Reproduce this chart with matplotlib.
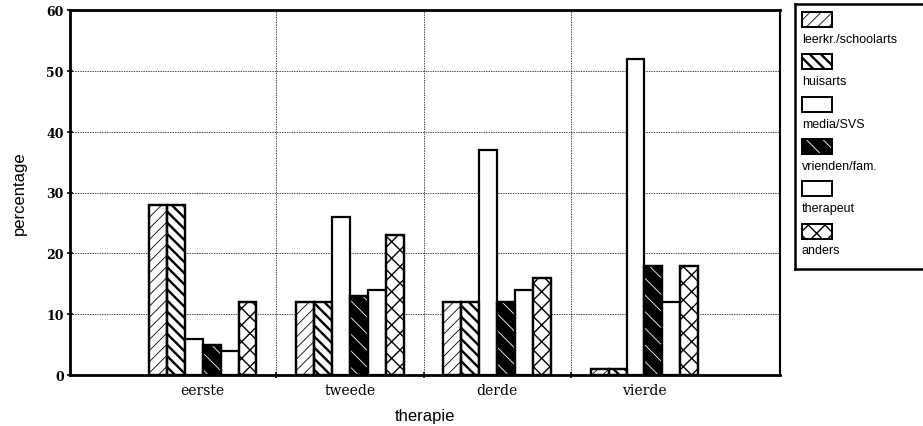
import numpy as np
import matplotlib
matplotlib.use("Agg")
import matplotlib.pyplot as plt
from matplotlib.patches import Rectangle

# data
categories = ["eerste", "tweede", "derde", "vierde"]
series_names = ["leerkr./schoolarts", "huisarts", "media/SVS",
                "vrienden/fam.", "therapeut", "anders"]
leerkr = [28, 12, 12, 1]
huisarts = [28, 12, 12, 1]
media = [6, 26, 37, 52]
vrienden = [5, 13, 12, 18]
therapeut = [4, 14, 14, 12]
anders = [12, 23, 16, 18]
series_values = [leerkr, huisarts, media, vrienden, therapeut, anders]

# (face, hatch, hatch colour, hatch linewidth)
styles = [
    ("white", "///", "black", 0.6),
    ("white", "\\\\\\", "black", 1.7),
    ("white", None, "black", 0.6),
    ("black", "\\\\", "white", 0.6),
    ("white", None, "black", 0.6),
    ("white", "xx", "black", 1.0),
]

W, H = 923, 427
fig = plt.figure(figsize=(W / 100, H / 100), dpi=100)
ax = fig.add_axes([70 / W, 1 - 376 / H, (780 - 70) / W, (376 - 11) / H])

x = np.arange(1, len(categories) + 1)
bw = 0.122


def draw_bar(target, xs, ys, width, style, bottom=0):
    face, hatch, hcol, hlw = style
    bars = target.bar(xs, ys, width, bottom=bottom, color=face,
                      edgecolor="black", linewidth=1.6, zorder=3)
    if hatch:
        over = target.bar(xs, ys, width, bottom=bottom, color="none",
                          edgecolor=hcol, hatch=hatch, linewidth=0, zorder=4)
        for p in over:
            if hasattr(p, "set_hatch_linewidth"):
                p.set_hatch_linewidth(hlw)
        target.bar(xs, ys, width, bottom=bottom, color="none",
                   edgecolor="black", linewidth=1.6, zorder=5)
    return bars


for i, (vals, st) in enumerate(zip(series_values, styles)):
    offs = (i - 2.5) * bw
    draw_bar(ax, x + offs, vals, bw, st)

ax.set_xlim(0.1, 4.92)
ax.set_ylim(0, 60)
ax.set_yticks(range(0, 61, 10))
ax.set_xticks(x)
ax.set_xticklabels(categories, family="DejaVu Serif", fontsize=10)
ax.set_xticks([1.5, 2.5, 3.5], minor=True)
ax.tick_params(axis="x", which="major", length=0, pad=6)
ax.tick_params(axis="x", which="minor", length=5, direction="inout", width=1.2)
ax.tick_params(axis="y", length=5, direction="inout", width=1.2, pad=2)
for lab in ax.get_yticklabels():
    lab.set_family("DejaVu Serif")
    lab.set_fontweight("bold")
    lab.set_fontsize(9)

ax.grid(True, axis="y", which="major", color="black", linewidth=0.5,
        linestyle=(0, (2, 1.5)), zorder=1)
ax.grid(True, axis="x", which="minor", color="black", linewidth=0.5,
        linestyle=(0, (2, 1.5)), zorder=1)
for side in ["left", "bottom", "top"]:
    ax.spines[side].set_linewidth(2)
ax.spines["right"].set_linewidth(1.5)

ax.set_ylabel("percentage", family="Liberation Sans", fontsize=12, labelpad=14)
ax.set_xlabel("therapie", family="Liberation Sans", fontsize=12, labelpad=8)

# legend: swatch above label, drawn in its own pixel-unit axes
lx0, ly0, lx1, ly1 = 795, 5, 930, 270
lax = fig.add_axes([lx0 / W, 1 - ly1 / H, (lx1 - lx0) / W, (ly1 - ly0) / H])
lax.set_xlim(0, lx1 - lx0)
lax.set_ylim(ly1 - ly0, 0)
lax.set_xticks([])
lax.set_yticks([])
for s in lax.spines.values():
    s.set_linewidth(1.8)
for i, (name, st) in enumerate(zip(series_names, styles)):
    top = 8 + i * 42.3
    face, hatch, hcol, hlw = st
    lax.add_patch(Rectangle((7, top), 30, 15, facecolor=face,
                            edgecolor="black", linewidth=1.4, zorder=2))
    if hatch:
        r = Rectangle((7, top), 30, 15, facecolor="none", edgecolor=hcol,
                      hatch=hatch, linewidth=0, zorder=3)
        if hasattr(r, "set_hatch_linewidth"):
            r.set_hatch_linewidth(hlw)
        lax.add_patch(r)
        lax.add_patch(Rectangle((7, top), 30, 15, facecolor="none",
                                edgecolor="black", linewidth=1.4, zorder=4))
    lax.text(7, top + 27, name, family="Liberation Sans", fontsize=9,
             va="center", ha="left")

fig.savefig("out.png", dpi=100)
